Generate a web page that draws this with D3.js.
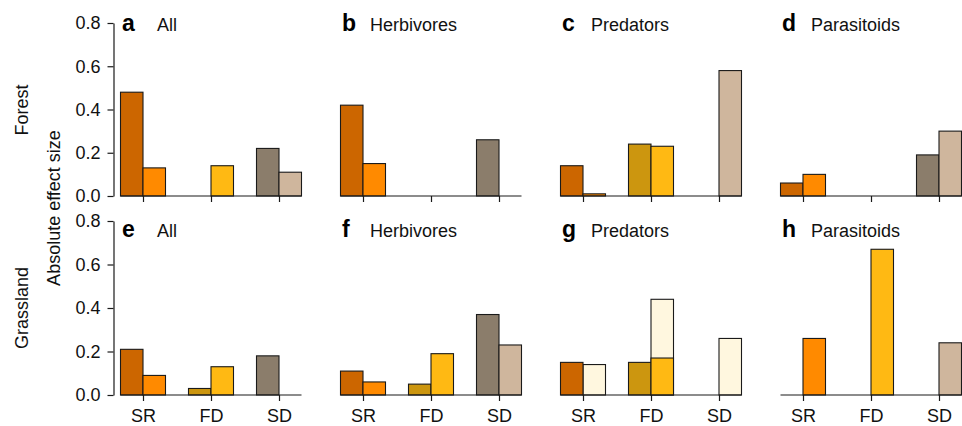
<!DOCTYPE html>
<html>
<head>
<meta charset="utf-8">
<script src="https://cdn.jsdelivr.net/npm/d3@7"></script>
<style>
  html, body { margin: 0; padding: 0; background: #fff; }
  svg { display: block; font-family: "Liberation Sans", Arial, Helvetica, sans-serif; }
</style>
</head>
<body>
<svg id="chart" width="962" height="426"></svg>
<script>
// ---------- data ----------
const categories = ["SR", "FD", "SD"];
const panelLetters = [["a", "b", "c", "d"], ["e", "f", "g", "h"]];
const panelTitles = ["All", "Herbivores", "Predators", "Parasitoids"];
const rowLabels = ["Forest", "Grassland"];
const yTicks = [0, 0.2, 0.4, 0.6, 0.8];
const yLabel = "Absolute effect size";

// dark (first) bar of each category, per panel
const forestDark = [[0.48, 0, 0.22], [0.42, 0, 0.26], [0.14, 0.24, 0], [0.06, 0, 0.19]];
// light (second) bar of each category, per panel (null = no bar)
const forestLight = [[0.13, 0.14, 0.11], [0.15, 0, null], [0.01, 0.23, 0.58], [0.10, 0, 0.30]];
const grassDark = [[0.21, 0.03, 0.18], [0.11, 0.05, 0.37], [0.15, 0.15, 0], [0, 0, 0]];
const grassLight = [[0.09, 0.13, null], [0.06, 0.19, 0.23], [null, 0.17, null], [0.26, 0.67, 0.24]];
// pale overlay bars (second position) in panel g
const grassPale = [[null, null, null], [null, null, null], [0.14, 0.44, 0.26], [null, null, null]];

const darkColors = { SR: "#cc6600", FD: "#cc960f", SD: "#8b7d6b" };
const lightColors = { SR: "#ff8a00", FD: "#ffb913", SD: "#cfb69d" };
const paleColor = "#fff7df";

// ---------- layout ----------
const colStep = 220;
const colX0 = 109;
const rows = [
  { y0: 196, y8: 23, titleY: 31, dark: forestDark, light: forestLight, pale: null, labels: false, rowLabelY: 110 },
  { y0: 395, y8: 221, titleY: 237, dark: grassDark, light: grassLight, pale: grassPale, labels: true, rowLabelY: 308 }
];
const titleGap = [35, 28, 29, 29];

const svg = d3.select("#chart");
const stroke = "#1a1a1a";

const xCat = d3.scaleBand().domain(categories).range([0, 204]);
const xSub = d3.scaleBand().domain(["dark", "light"]).range([11.5, 56.5]);

rows.forEach((row, r) => {
  const y = d3.scaleLinear().domain([0, 0.8]).range([row.y0, row.y8]);

  for (let c = 0; c < 4; c++) {
    const g = svg.append("g").attr("transform", `translate(${colX0 + c * colStep},0)`);

    const items = [];
    categories.forEach((cat, i) => {
      if (row.pale && row.pale[c][i] != null)
        items.push({ cat, sub: "light", v: row.pale[c][i], fill: paleColor });
      if (row.dark[c][i] != null)
        items.push({ cat, sub: "dark", v: row.dark[c][i], fill: darkColors[cat] });
      if (row.light[c][i] != null)
        items.push({ cat, sub: "light", v: row.light[c][i], fill: lightColors[cat] });
    });

    g.selectAll("rect.bar").data(items).join("rect")
      .attr("class", "bar")
      .attr("x", d => xCat(d.cat) + xSub(d.sub))
      .attr("width", xSub.bandwidth())
      .attr("y", d => y(d.v))
      .attr("height", d => y(0) - y(d.v))
      .attr("fill", d => d.fill)
      .attr("stroke", stroke)
      .attr("stroke-width", 1.1);

    // baseline
    g.append("line")
      .attr("x1", xCat(categories[0]) + xSub("dark"))
      .attr("x2", xCat(categories[2]) + xSub("light") + xSub.bandwidth())
      .attr("y1", y(0)).attr("y2", y(0))
      .attr("stroke", stroke).attr("stroke-width", 1.2);

    // x axis ticks
    const xCenter = d3.scalePoint().domain(categories).range([xCat.bandwidth() / 2, 204 - xCat.bandwidth() / 2]);
    const xa = g.append("g").attr("transform", `translate(0,${y(0)})`)
      .call(d3.axisBottom(xCenter).tickSize(6).tickPadding(8)
        .tickFormat(row.labels ? (d => d) : () => ""));
    xa.select(".domain").remove();
    xa.selectAll(".tick line").attr("stroke", stroke).attr("stroke-width", 1.2);
    xa.selectAll(".tick text").attr("font-size", 18).attr("fill", "#111")
      .attr("font-family", "'Liberation Sans', Arial, sans-serif");

    // y axis on first column
    if (c === 0) {
      const ya = svg.append("g").attr("transform", "translate(113.5,0)")
        .call(d3.axisLeft(y).tickValues(yTicks).tickFormat(d3.format(".1f"))
          .tickSize(6).tickSizeOuter(0).tickPadding(7));
      ya.select(".domain").attr("stroke", stroke).attr("stroke-width", 1.2);
      ya.selectAll(".tick line").attr("stroke", stroke).attr("stroke-width", 1.2);
      ya.selectAll(".tick text").attr("font-size", 18).attr("fill", "#111")
        .attr("font-family", "'Liberation Sans', Arial, sans-serif");
    }

    // panel letter and title
    const lx = colX0 + 13 + c * colStep;
    svg.append("text").attr("x", lx).attr("y", row.titleY)
      .attr("font-size", 23).attr("font-weight", "bold").attr("fill", "#000")
      .text(panelLetters[r][c]);
    svg.append("text").attr("x", lx + titleGap[c]).attr("y", row.titleY)
      .attr("font-size", 18).attr("fill", "#111")
      .text(panelTitles[c]);
  }

  // row label
  svg.append("text")
    .attr("transform", `translate(28,${row.rowLabelY}) rotate(-90)`)
    .attr("text-anchor", "middle").attr("font-size", 18).attr("fill", "#111")
    .text(rowLabels[r]);
});

svg.append("text")
  .attr("transform", "translate(60,208) rotate(-90)")
  .attr("text-anchor", "middle").attr("font-size", 18).attr("fill", "#111")
  .text(yLabel);
</script>
</body>
</html>
